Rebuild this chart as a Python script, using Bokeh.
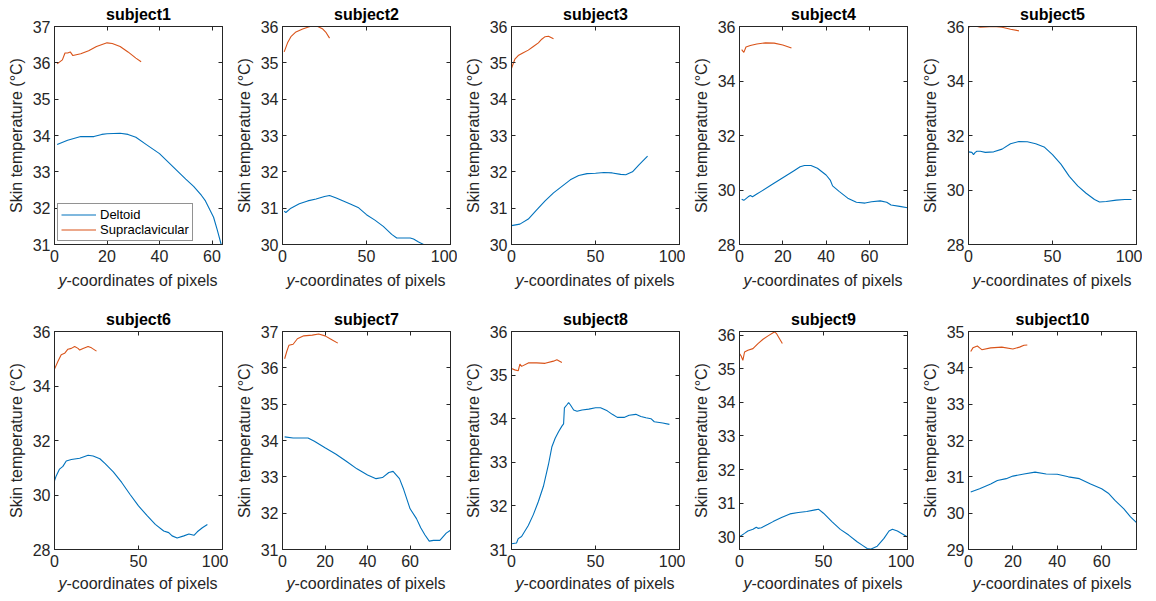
from bokeh.plotting import figure
from bokeh.models import LinearAxis, FixedTicker, Range1d, Div
from bokeh.layouts import column, row
from bokeh.embed import file_html
from bokeh.resources import INLINE

titles = ["subject1", "subject2", "subject3", "subject4", "subject5",
          "subject6", "subject7", "subject8", "subject9", "subject10"]
series_names = ["Deltoid", "Supraclavicular"]
x_label_italic = "y"
x_label_rest = "-coordinates of pixels"
y_label = "Skin temperature (°C)"

s1_del_x = [1, 5, 10, 15, 18, 20, 25, 28, 31, 35, 40, 45, 50, 53, 56, 57.5, 60.6, 62, 63.5]
s1_del_y = [33.75, 33.87, 33.97, 33.97, 34.03, 34.05, 34.06, 34.03, 33.95, 33.75, 33.5, 33.15, 32.8, 32.6, 32.35, 32.2, 31.75, 31.4, 31.0]
s1_sup_x = [1, 3, 4, 5, 6, 7, 10, 13, 16, 20, 22, 25, 28, 31, 33]
s1_sup_y = [35.97, 36.08, 36.27, 36.27, 36.3, 36.2, 36.25, 36.33, 36.45, 36.55, 36.53, 36.45, 36.3, 36.13, 36.03]

s2_del_x = [1, 2, 5, 10, 15, 20, 25, 28, 32, 40, 45, 50, 55, 60, 65, 68, 72, 76, 78, 81, 84]
s2_del_y = [30.92, 30.88, 31.0, 31.12, 31.2, 31.25, 31.32, 31.35, 31.28, 31.12, 31.02, 30.82, 30.67, 30.5, 30.28, 30.18, 30.18, 30.18, 30.15, 30.07, 30.0]
s2_sup_x = [1, 3, 5, 8, 12, 15, 18, 21, 24, 26, 28]
s2_sup_y = [35.3, 35.55, 35.72, 35.85, 35.93, 35.98, 36.02, 36.0, 35.93, 35.83, 35.68]

s3_del_x = [0, 5, 10, 15, 20, 25, 30, 35, 40, 45, 50, 55, 60, 65, 68, 72, 76, 81]
s3_del_y = [30.52, 30.56, 30.7, 30.95, 31.2, 31.42, 31.6, 31.78, 31.9, 31.95, 31.96, 31.98, 31.97, 31.93, 31.92, 32.0, 32.2, 32.43]
s3_sup_x = [0, 2, 4, 7, 10, 13, 16, 18, 20, 22, 25]
s3_sup_y = [34.85, 35.1, 35.2, 35.28, 35.35, 35.45, 35.55, 35.65, 35.72, 35.73, 35.66]

s4_del_x = [1, 2, 4, 5, 6, 8, 10, 15, 20, 25, 28, 30, 33, 36, 40, 42, 43, 46, 50, 54, 58, 61, 65, 68, 70, 74, 77.6]
s4_del_y = [29.66, 29.62, 29.75, 29.8, 29.75, 29.85, 29.95, 30.2, 30.45, 30.7, 30.85, 30.9, 30.9, 30.8, 30.55, 30.35, 30.15, 29.95, 29.7, 29.55, 29.52, 29.57, 29.6, 29.55, 29.45, 29.4, 29.35]
s4_sup_x = [1, 2, 3, 5, 8, 12, 16, 20, 24]
s4_sup_y = [35.15, 35.05, 35.25, 35.3, 35.36, 35.4, 35.39, 35.32, 35.21]

s5_del_x = [0, 2, 3, 4, 5, 7, 10, 15, 20, 25, 30, 35, 40, 45, 50, 55, 60, 65, 70, 75, 78, 82, 88, 93, 97]
s5_del_y = [31.4, 31.38, 31.3, 31.38, 31.42, 31.42, 31.38, 31.4, 31.5, 31.7, 31.78, 31.77, 31.7, 31.58, 31.3, 30.95, 30.5, 30.15, 29.88, 29.65, 29.56, 29.58, 29.63, 29.65, 29.65]
s5_sup_x = [0, 2, 4, 7, 10, 15, 20, 25, 30]
s5_sup_y = [35.96, 36.05, 36.02, 35.97, 35.98, 36.0, 35.97, 35.9, 35.84]

s6_del_x = [0, 1, 3, 5, 7, 10, 15, 20, 23, 27, 30, 35, 40, 45, 50, 55, 60, 65, 68, 70, 73, 77, 80, 83, 85, 88, 91]
s6_del_y = [30.52, 30.7, 30.95, 31.05, 31.25, 31.3, 31.35, 31.46, 31.43, 31.33, 31.16, 30.85, 30.46, 30.02, 29.6, 29.25, 28.92, 28.68, 28.62, 28.5, 28.42, 28.5, 28.57, 28.52, 28.65, 28.8, 28.92]
s6_sup_x = [0, 2, 4, 6, 8, 10, 12, 14, 15, 17, 20, 22, 25]
s6_sup_y = [34.62, 34.9, 35.15, 35.2, 35.35, 35.38, 35.45, 35.38, 35.32, 35.38, 35.45, 35.4, 35.28]

s7_del_x = [1, 5, 12, 15, 20, 25, 30, 35, 40, 44, 47, 50, 52, 55, 57, 60, 63, 65, 67, 69, 71, 74, 77, 79]
s7_del_y = [34.1, 34.07, 34.07, 33.98, 33.8, 33.63, 33.43, 33.22, 33.05, 32.95, 32.98, 33.12, 33.15, 32.95, 32.65, 32.12, 31.85, 31.6, 31.4, 31.23, 31.25, 31.25, 31.45, 31.53]
s7_sup_x = [1, 2, 3, 5, 7, 10, 14, 17, 20, 23, 26]
s7_sup_y = [36.25, 36.45, 36.62, 36.65, 36.8, 36.88, 36.9, 36.93, 36.88, 36.78, 36.68]

s8_del_x = [0, 3, 4, 6, 10, 13, 16, 19, 22, 24, 26, 28, 30, 31, 31.5, 33, 34, 35, 37, 39, 42, 46, 50, 53, 57, 60, 63, 67, 70, 74, 77, 80, 83, 85, 90, 94]
s8_del_y = [31.13, 31.15, 31.25, 31.3, 31.55, 31.8, 32.1, 32.45, 32.95, 33.35, 33.55, 33.7, 33.83, 33.88, 34.25, 34.32, 34.37, 34.32, 34.2, 34.17, 34.2, 34.22, 34.25, 34.25, 34.18, 34.1, 34.03, 34.03, 34.08, 34.1, 34.05, 34.02, 34.0, 33.93, 33.9, 33.87]
s8_sup_x = [0, 2, 4, 5, 6, 10, 15, 20, 25, 27, 30]
s8_sup_y = [35.15, 35.12, 35.1, 35.25, 35.2, 35.28, 35.28, 35.27, 35.32, 35.35, 35.29]

s9_del_x = [0, 3, 5, 8, 10, 11, 13, 17, 20, 25, 30, 35, 40, 45, 47, 50, 55, 60, 65, 70, 73, 76, 78, 82, 86, 89, 91, 94, 97, 100]
s9_del_y = [30.0, 30.1, 30.17, 30.22, 30.28, 30.25, 30.27, 30.37, 30.45, 30.57, 30.68, 30.72, 30.75, 30.8, 30.82, 30.7, 30.45, 30.22, 30.05, 29.85, 29.75, 29.65, 29.63, 29.72, 29.95, 30.17, 30.22, 30.17, 30.08, 29.99]
s9_sup_x = [0, 1, 2, 3, 5, 8, 11, 14, 17, 20, 21, 22, 24, 25.5]
s9_sup_y = [35.45, 35.38, 35.25, 35.5, 35.55, 35.6, 35.75, 35.88, 35.98, 36.07, 36.1, 36.05, 35.88, 35.75]

s10_del_x = [1, 5, 10, 13, 17, 20, 25, 30, 35, 40, 45, 50, 55, 60, 63, 66, 70, 73, 75.7]
s10_del_y = [30.58, 30.67, 30.8, 30.9, 30.95, 31.02, 31.08, 31.13, 31.08, 31.07, 31.0, 30.95, 30.8, 30.67, 30.55, 30.35, 30.12, 29.9, 29.74]
s10_sup_x = [1, 2, 4, 5, 6, 10, 15, 20, 23, 25, 26.5]
s10_sup_y = [34.45, 34.55, 34.6, 34.55, 34.5, 34.55, 34.57, 34.52, 34.57, 34.62, 34.63]

x_limits = [64, 100, 100, 77.6, 100, 100, 79, 100, 100, 75.7]
y_limits = [(31, 37), (30, 36), (30, 36), (28, 36), (28, 36), (28, 36), (31, 37), (31, 36), (29.62, 36.11), (29, 35)]
x_ticks = [[0, 20, 40, 60], [0, 50, 100], [0, 50, 100], [0, 20, 40, 60], [0, 50, 100],
           [0, 50, 100], [0, 20, 40, 60], [0, 50, 100], [0, 50, 100], [0, 20, 40, 60]]
y_ticks = [[31, 32, 33, 34, 35, 36, 37], [30, 31, 32, 33, 34, 35, 36], [30, 31, 32, 33, 34, 35, 36],
           [28, 30, 32, 34, 36], [28, 30, 32, 34, 36], [28, 30, 32, 34, 36],
           [31, 32, 33, 34, 35, 36, 37], [31, 32, 33, 34, 35, 36], [30, 31, 32, 33, 34, 35, 36],
           [29, 30, 31, 32, 33, 34, 35]]

deltoid = [(s1_del_x, s1_del_y), (s2_del_x, s2_del_y), (s3_del_x, s3_del_y), (s4_del_x, s4_del_y),
           (s5_del_x, s5_del_y), (s6_del_x, s6_del_y), (s7_del_x, s7_del_y), (s8_del_x, s8_del_y),
           (s9_del_x, s9_del_y), (s10_del_x, s10_del_y)]
supra = [(s1_sup_x, s1_sup_y), (s2_sup_x, s2_sup_y), (s3_sup_x, s3_sup_y), (s4_sup_x, s4_sup_y),
         (s5_sup_x, s5_sup_y), (s6_sup_x, s6_sup_y), (s7_sup_x, s7_sup_y), (s8_sup_x, s8_sup_y),
         (s9_sup_x, s9_sup_y), (s10_sup_x, s10_sup_y)]

FONT = "Liberation Sans"
AX = "#262626"
BLUE = "#0072BD"
ORANGE = "#D95319"

FW, FH = 168, 218
BL, BT, BB = 54, 26, 27
BR_COLS = [6, 7, 6, 7, 6]


def style_axis(ax, ticks, labels=True):
    ax.ticker = FixedTicker(ticks=ticks)
    ax.major_tick_in = 4
    ax.major_tick_out = 0
    ax.minor_tick_line_color = None
    ax.major_tick_line_color = AX
    ax.axis_line_color = AX
    ax.major_label_text_font = FONT
    ax.major_label_text_color = AX
    ax.major_label_text_font_size = "16px"
    if labels:
        ax.major_label_standoff = 5
    else:
        ax.major_label_overrides = {t: "" for t in ticks}
        ax.major_label_standoff = 0


def make(i):
    x0, x1 = 0, x_limits[i]
    y0, y1 = y_limits[i]
    p = figure(frame_width=FW, frame_height=FH,
               x_range=Range1d(x0, x1), y_range=Range1d(y0, y1),
               output_backend="svg", toolbar_location=None,
               min_border_left=BL, min_border_right=BR_COLS[i % 5], min_border_top=BT,
               min_border_bottom=BB, title=titles[i])
    p.title.text_font = FONT
    p.title.text_font_size = "16px"
    p.title.text_font_style = "bold"
    p.title.text_color = "#000000"
    p.title.align = "center"
    p.title.standoff = 7
    p.xgrid.visible = False
    p.ygrid.visible = False
    p.outline_line_color = AX
    p.outline_line_alpha = 1
    p.outline_line_width = 1

    style_axis(p.xaxis[0], x_ticks[i])
    style_axis(p.yaxis[0], y_ticks[i])
    p.yaxis[0].major_label_standoff = 4
    p.yaxis[0].axis_label = y_label
    p.yaxis[0].axis_label_text_font = FONT
    p.yaxis[0].axis_label_text_font_size = "16px"
    p.yaxis[0].axis_label_text_font_style = "normal"
    p.yaxis[0].axis_label_text_color = AX
    p.yaxis[0].axis_label_standoff = 5

    top_ax = LinearAxis()
    style_axis(top_ax, x_ticks[i], labels=False)
    p.add_layout(top_ax, "above")
    right_ax = LinearAxis()
    style_axis(right_ax, y_ticks[i], labels=False)
    p.add_layout(right_ax, "right")

    dx, dy = deltoid[i]
    sx, sy = supra[i]
    if i == 0:
        p.line(dx, dy, color=BLUE, line_width=1.1, legend_label=series_names[0])
        p.line(sx, sy, color=ORANGE, line_width=1.1, legend_label=series_names[1])
        lg = p.legend[0]
        lg.location = "bottom_left"
        lg.label_text_font = FONT
        lg.label_text_font_size = "13px"
        lg.label_text_color = "#000000"
        lg.glyph_width = 35
        lg.glyph_height = 15
        lg.label_height = 15
        lg.label_standoff = 4
        lg.spacing = 0
        lg.padding = 3
        lg.margin = 3
        lg.border_line_color = AX
        lg.border_line_width = 1
        lg.background_fill_alpha = 1
    else:
        p.line(dx, dy, color=BLUE, line_width=1.1)
        p.line(sx, sy, color=ORANGE, line_width=1.1)
    return p


def xlabel_div(col, height, line_h):
    html = ('<div style="width:%dpx;margin-left:%dpx;text-align:center;'
            'font-family:\'Liberation Sans\',Arial,sans-serif;font-size:16px;line-height:%dpx;'
            'color:%s;white-space:nowrap"><i>%s</i>%s</div>'
            % (FW, BL, line_h, AX, x_label_italic, x_label_rest))
    return Div(text=html, width=BL + FW + BR_COLS[col], height=height, margin=0)


figs = [make(i) for i in range(10)]
layout = column(
    row(*figs[:5]),
    row(*[xlabel_div(c, 34, 20) for c in range(5)]),
    row(*figs[5:]),
    row(*[xlabel_div(c, 16, 16) for c in range(5)]),
)
open("out.html", "w").write(file_html(layout, INLINE))
